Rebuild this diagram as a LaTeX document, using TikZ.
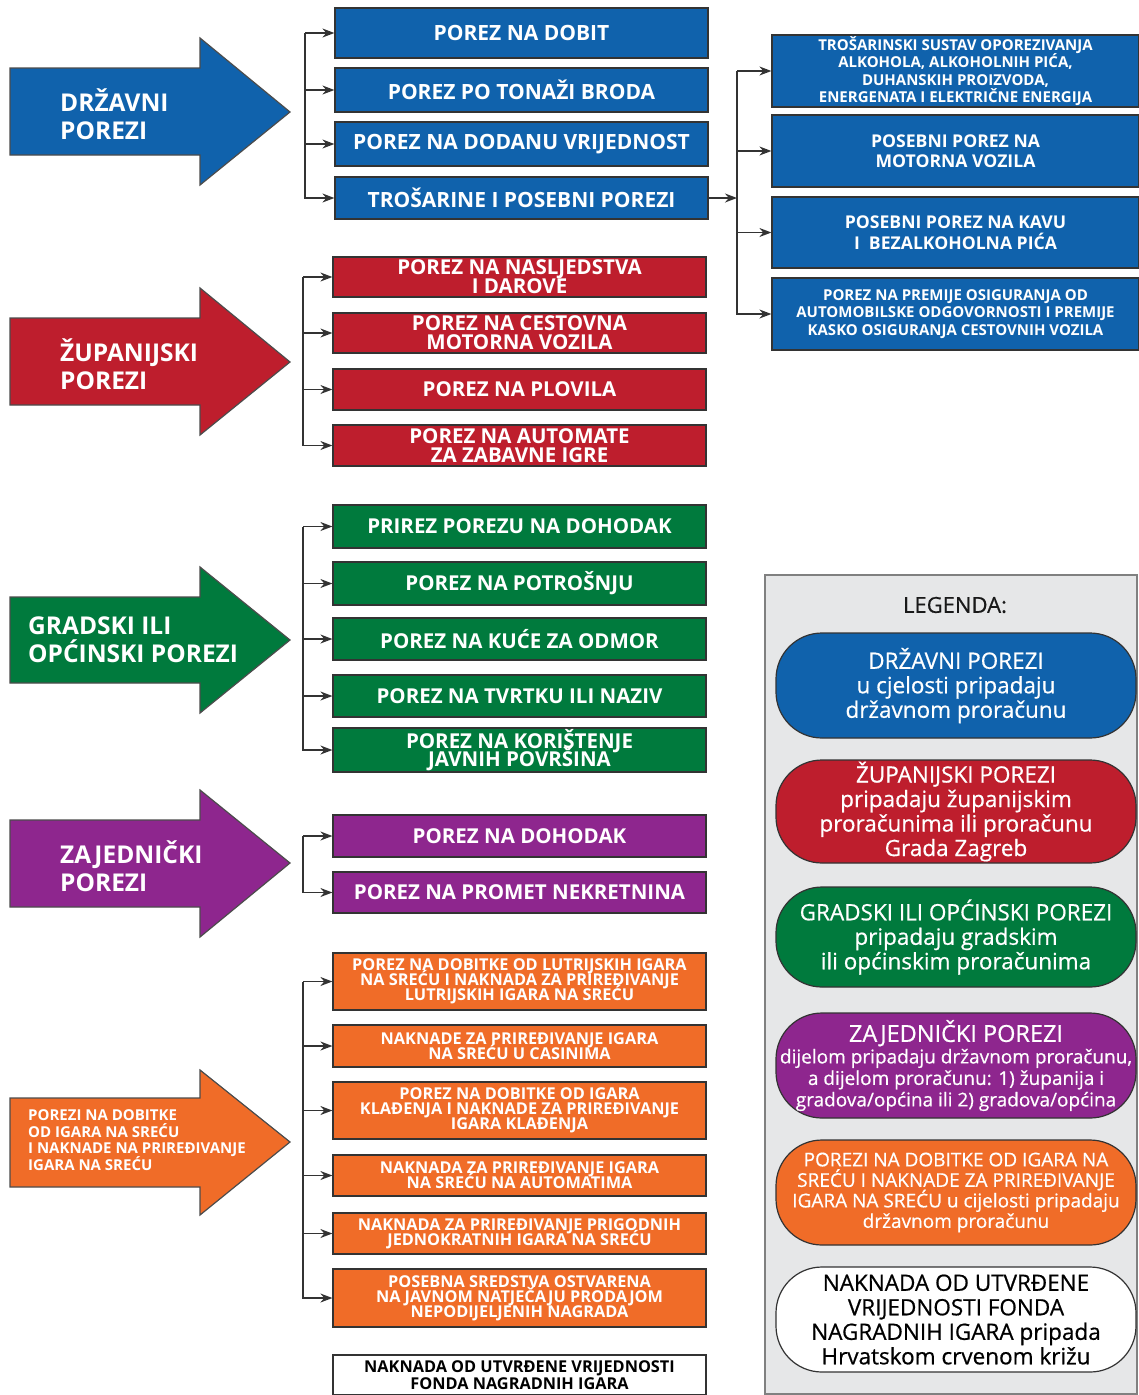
\documentclass[tikz,border=0pt]{standalone}
\usepackage{fontspec}
\setmainfont{Open Sans}
\newfontfamily\legfont[FakeBold=0.6]{Open Sans}
\usetikzlibrary{arrows.meta}
\definecolor{cblue}{RGB}{16,98,172}
\definecolor{cred}{RGB}{190,30,45}
\definecolor{cgreen}{RGB}{0,122,61}
\definecolor{cpurple}{RGB}{142,38,142}
\definecolor{corange}{RGB}{240,108,40}
\definecolor{lgray}{RGB}{230,231,232}
\newcommand\myfs[2]{\fontsize{#1}{#2}\selectfont\lineskiplimit=-100pt\lineskip=0pt\relax}
\tikzset{
  tbox/.style={draw=black!80, line width=1.2pt, text=white, align=center,
    inner sep=0pt, minimum width=373pt},
  rbox/.style={tbox, minimum width=367pt},
  conn/.style={draw=black!80, line width=1.4pt},
  arr/.style={conn, -{Stealth[length=12pt,width=9pt]}},
  bigarrow/.style={draw=black!70, line width=1.2pt},
  arrtext/.style={text=white, align=left, anchor=west, inner sep=0pt, font=\bfseries\myfs{24.5}{28}},
  pill/.style={draw=black!80, line width=1.2pt, rounded corners=46pt, minimum width=360pt,
    minimum height=105pt, align=center, inner sep=0pt, text=white, font=\legfont\myfs{22.5}{24.5}},
}
\begin{document}
\begin{tikzpicture}[x=1pt,y=-1pt]
\useasboundingbox (0,0) rectangle (1138,1395);
\fill[white] (0,0) rectangle (1138,1395);

% ---------------- DRŽAVNI ----------------
\filldraw[bigarrow, fill=cblue] (10,68) -- (200,68) -- (200,38) -- (290,112) -- (200,185) -- (200,155) -- (10,155) -- cycle;
\node[arrtext] (ad) at (60,114) {DRŽAVNI\\POREZI};

\node[tbox, fill=cblue, minimum height=50pt, font=\bfseries\myfs{21}{22}] (d1) at (521.5,33) {POREZ NA DOBIT};
\node[tbox, fill=cblue, minimum height=44pt, font=\bfseries\myfs{21}{22}] (d2) at (521.5,90) {POREZ PO TONAŽI BRODA};
\node[tbox, fill=cblue, minimum height=44pt, font=\bfseries\myfs{21}{22}] (d3) at (521.5,144) {POREZ NA DODANU VRIJEDNOST};
\node[tbox, fill=cblue, minimum height=42pt, font=\bfseries\myfs{21}{22}] (d4) at (521.5,198) {TROŠARINE I POSEBNI POREZI};
\coordinate (sd) at (305,33);
\draw[arr] (sd) |- (d1);
\draw[arr] (sd) |- (d2);
\draw[arr] (sd) |- (d3);
\draw[arr] (sd) |- (d4);

\node[rbox, fill=cblue, minimum height=72pt, font=\bfseries\myfs{15}{17.5}] (t1) at (955.5,71) {TROŠARINSKI SUSTAV OPOREZIVANJA\\ALKOHOLA, ALKOHOLNIH PIĆA,\\DUHANSKIH PROIZVODA,\\ENERGENATA I ELEKTRIČNE ENERGIJA};
\node[rbox, fill=cblue, minimum height=72pt, font=\bfseries\myfs{17.6}{20.5}] (t2) at (955.5,151) {POSEBNI POREZ NA\\MOTORNA VOZILA};
\node[rbox, fill=cblue, minimum height=71pt, font=\bfseries\myfs{17.6}{20.5}] (t3) at (955.5,232.5) {POSEBNI POREZ NA KAVU\\I\ \ BEZALKOHOLNA PIĆA};
\node[rbox, fill=cblue, minimum height=72pt, font=\bfseries\myfs{15}{17.5}] (t4) at (955.5,314) {POREZ NA PREMIJE OSIGURANJA OD\\AUTOMOBILSKE ODGOVORNOSTI I PREMIJE\\KASKO OSIGURANJA CESTOVNIH VOZILA};
\coordinate (st) at (737,71);
\draw[arr] (d4) -- (d4.east -| st);
\draw[arr] (st) |- (t1);
\draw[arr] (st) |- (t2);
\draw[arr] (st) |- (t3);
\draw[arr] (st) |- (t4);

% ---------------- ŽUPANIJSKI ----------------
\filldraw[bigarrow, fill=cred] (10,318) -- (200,318) -- (200,288) -- (290,362) -- (200,435) -- (200,405) -- (10,405) -- cycle;
\node[arrtext] (az) at (60,364) {ŽUPANIJSKI\\POREZI};

\node[tbox, fill=cred, minimum height=40pt, font=\bfseries\myfs{20.5}{19}] (r1) at (519.5,277) {POREZ NA NASLJEDSTVA\\I DAROVE};
\node[tbox, fill=cred, minimum height=40pt, font=\bfseries\myfs{20.5}{19}] (r2) at (519.5,333) {POREZ NA CESTOVNA\\MOTORNA VOZILA};
\node[tbox, fill=cred, minimum height=41pt, font=\bfseries\myfs{20.5}{19}] (r3) at (519.5,389.5) {POREZ NA PLOVILA};
\node[tbox, fill=cred, minimum height=41pt, font=\bfseries\myfs{20.5}{19}] (r4) at (519.5,445.5) {POREZ NA AUTOMATE\\ZA ZABAVNE IGRE};
\coordinate (sr) at (303,277);
\draw[arr] (sr) |- (r1);
\draw[arr] (sr) |- (r2);
\draw[arr] (sr) |- (r3);
\draw[arr] (sr) |- (r4);

% ---------------- GRADSKI ----------------
\filldraw[bigarrow, fill=cgreen] (10,597) -- (200,597) -- (200,567) -- (290,640) -- (200,713) -- (200,683) -- (10,683) -- cycle;
\node[arrtext] (ag) at (28,640) {GRADSKI ILI\\OPĆINSKI POREZI};

\node[tbox, fill=cgreen, minimum height=43pt, font=\bfseries\myfs{20.5}{18.5}] (g1) at (519.5,526.5) {PRIREZ POREZU NA DOHODAK};
\node[tbox, fill=cgreen, minimum height=43pt, font=\bfseries\myfs{20.5}{18.5}] (g2) at (519.5,583.5) {POREZ NA POTROŠNJU};
\node[tbox, fill=cgreen, minimum height=42pt, font=\bfseries\myfs{20.5}{18.5}] (g3) at (519.5,639) {POREZ NA KUĆE ZA ODMOR};
\node[tbox, fill=cgreen, minimum height=42pt, font=\bfseries\myfs{20.5}{18.5}] (g4) at (519.5,696) {POREZ NA TVRTKU ILI NAZIV};
\node[tbox, fill=cgreen, minimum height=44pt, font=\bfseries\myfs{20.5}{18.5}] (g5) at (519.5,750) {POREZ NA KORIŠTENJE\\JAVNIH POVRŠINA};
\coordinate (sg) at (303,526.5);
\draw[arr] (sg) |- (g1);
\draw[arr] (sg) |- (g2);
\draw[arr] (sg) |- (g3);
\draw[arr] (sg) |- (g4);
\draw[arr] (sg) |- (g5);

% ---------------- ZAJEDNIČKI ----------------
\filldraw[bigarrow, fill=cpurple] (10,820) -- (200,820) -- (200,790) -- (290,863) -- (200,937) -- (200,907) -- (10,907) -- cycle;
\node[arrtext] (ap) at (60,866) {ZAJEDNIČKI\\POREZI};

\node[tbox, fill=cpurple, minimum height=42pt, font=\bfseries\myfs{20.5}{18.5}] (p1) at (519.5,836) {POREZ NA DOHODAK};
\node[tbox, fill=cpurple, minimum height=41pt, font=\bfseries\myfs{20.5}{18.5}] (p2) at (519.5,892.5) {POREZ NA PROMET NEKRETNINA};
\coordinate (sp) at (303,836);
\draw[arr] (sp) |- (p1);
\draw[arr] (sp) |- (p2);

% ---------------- IGRE NA SREĆU ----------------
\filldraw[bigarrow, fill=corange] (10,1098) -- (200,1098) -- (200,1070) -- (290,1142) -- (200,1215) -- (200,1187) -- (10,1187) -- cycle;
\node[arrtext, font=\bfseries\myfs{15}{16.5}] (ao) at (28,1140) {POREZI NA DOBITKE\\OD IGARA NA SREĆU\\I NAKNADE NA PRIREĐIVANJE\\IGARA NA SREĆU};

\node[tbox, fill=corange, minimum height=57pt, font=\bfseries\myfs{16.3}{15}] (o1) at (519.5,981.5) {POREZ NA DOBITKE OD LUTRIJSKIH IGARA\\NA SREĆU I NAKNADA ZA PRIREĐIVANJE\\LUTRIJSKIH IGARA NA SREĆU};
\node[tbox, fill=corange, minimum height=42pt, font=\bfseries\myfs{16.3}{15}] (o2) at (519.5,1046) {NAKNADE ZA PRIREĐIVANJE IGARA\\NA SREĆU U CASINIMA};
\node[tbox, fill=corange, minimum height=57pt, font=\bfseries\myfs{16.3}{15}] (o3) at (519.5,1110.5) {POREZ NA DOBITKE OD IGARA\\KLAĐENJA I NAKNADE ZA PRIREĐIVANJE\\IGARA KLAĐENJA};
\node[tbox, fill=corange, minimum height=41pt, font=\bfseries\myfs{16.3}{15}] (o4) at (519.5,1175.5) {NAKNADA ZA PRIREĐIVANJE IGARA\\NA SREĆU NA AUTOMATIMA};
\node[tbox, fill=corange, minimum height=41pt, font=\bfseries\myfs{16.3}{15}] (o5) at (519.5,1233.5) {NAKNADA ZA PRIREĐIVANJE PRIGODNIH\\JEDNOKRATNIH IGARA NA SREĆU};
\node[tbox, fill=corange, minimum height=58pt, font=\bfseries\myfs{16.3}{15}] (o6) at (519.5,1298) {POSEBNA SREDSTVA OSTVARENA\\NA JAVNOM NATJEČAJU PRODAJOM\\NEPODIJELJENIH NAGRADA};
\coordinate (so) at (303,981.5);
\draw[arr] (so) |- (o1);
\draw[arr] (so) |- (o2);
\draw[arr] (so) |- (o3);
\draw[arr] (so) |- (o4);
\draw[arr] (so) |- (o5);
\draw[arr] (so) |- (o6);

\node[tbox, fill=white, text=black, minimum height=40pt, font=\bfseries\myfs{16.3}{17}] (wb) at (519.5,1375) {NAKNADA OD UTVRĐENE VRIJEDNOSTI\\FONDA NAGRADNIH IGARA};

% ---------------- LEGENDA ----------------
\filldraw[fill=lgray, draw=black!50, line width=1.5pt] (765,575) rectangle (1137,1394);
\node[font=\legfont\myfs{22}{24}, text=black!90] (lg) at (955,605) {LEGENDA:};
\node[pill, fill=cblue] (l1) at (956,685.5) {DRŽAVNI POREZI\\u cjelosti pripadaju\\državnom proračunu};
\node[pill, fill=cred, minimum height=103pt] (l2) at (956,811.5) {ŽUPANIJSKI POREZI\\pripadaju županijskim\\proračunima ili proračunu\\Grada Zagreb};
\node[pill, fill=cgreen, minimum height=100pt] (l3) at (956,937) {GRADSKI ILI OPĆINSKI POREZI\\pripadaju gradskim\\ili općinskim proračunima};
\node[pill, fill=cpurple, font=\legfont\myfs{19}{21.5}] (l4) at (956,1065.5) {{\myfs{23.5}{23}ZAJEDNIČKI POREZI}\\dijelom pripadaju državnom proračunu,\\a dijelom proračunu: 1) županija i\\gradova/općina ili 2) gradova/općina};
\node[pill, fill=corange, font=\legfont\myfs{19}{20.5}] (l5) at (956,1192.5) {POREZI NA DOBITKE OD IGARA NA\\SREĆU I NAKNADE ZA PRIREĐIVANJE\\IGARA NA SREĆU u cijelosti pripadaju\\državnom proračunu};
\node[pill, fill=white, text=black] (l6) at (956,1319.5) {NAKNADA OD UTVRĐENE\\VRIJEDNOSTI FONDA\\NAGRADNIH IGARA pripada\\Hrvatskom crvenom križu};
\end{tikzpicture}
\end{document}
